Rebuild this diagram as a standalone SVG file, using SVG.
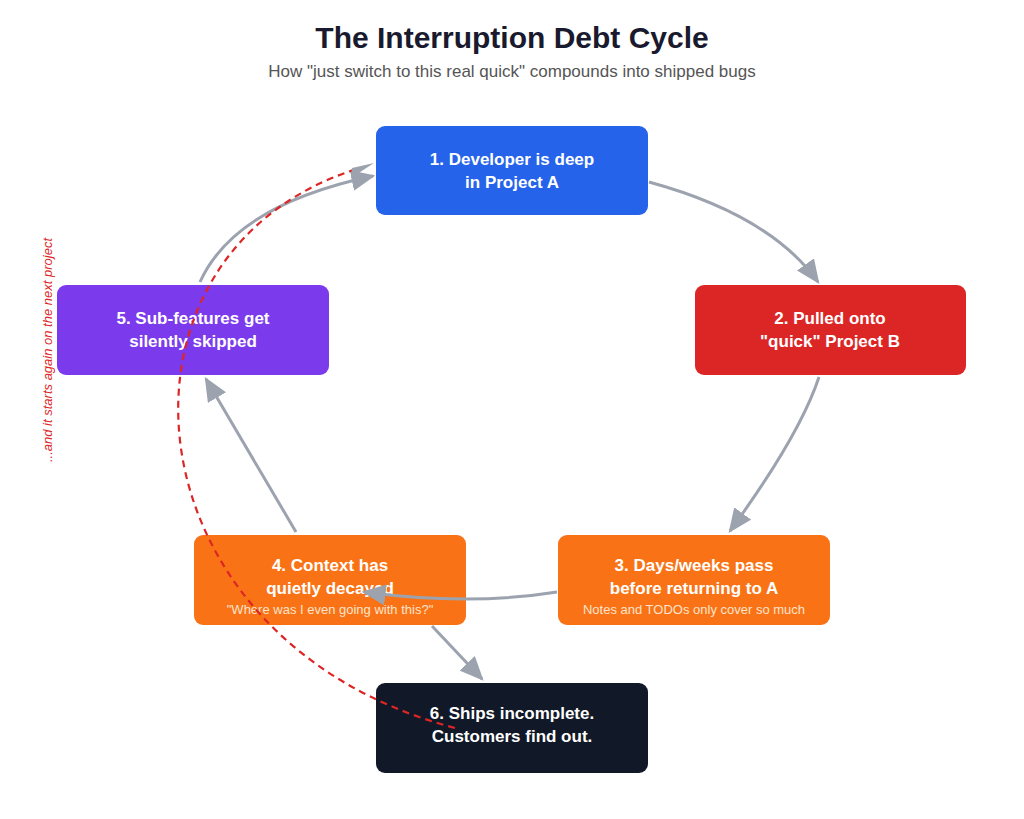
<svg xmlns="http://www.w3.org/2000/svg" width="1024" height="819" viewBox="0 0 1024 819">
<style>
.t{font-family:"Liberation Sans",Arial,sans-serif}
.nt{font-family:"Liberation Sans",Arial,sans-serif;font-weight:bold;font-size:17px;fill:#fff;text-anchor:middle}
.st{font-family:"Liberation Sans",Arial,sans-serif;font-size:13px;fill:#fde3cc;text-anchor:middle}
.c{fill:none;stroke:#9ca3af;stroke-width:3}
</style>
<defs>
<marker id="a" viewBox="0 0 10 10" refX="9" refY="5" markerWidth="8" markerHeight="7" markerUnits="strokeWidth" orient="auto" preserveAspectRatio="none">
<path d="M0,0 L10,5 L0,10 Z" fill="#9ca3af"/>
</marker>
</defs>
<rect width="1024" height="819" fill="#fff"/>
<text x="512" y="48" class="t" font-size="30" font-weight="bold" fill="#1a1a2e" text-anchor="middle">The Interruption Debt Cycle</text>
<text x="512" y="77" class="t" font-size="17" fill="#555" text-anchor="middle">How "just switch to this real quick" compounds into shipped bugs</text>
<g id="n1"><rect x="376" y="126" width="272" height="89" rx="9" fill="#2563eb"/><text class="nt" x="512" y="165">1. Developer is deep</text><text class="nt" x="512" y="188">in Project A</text></g>
<g id="n2"><rect x="695" y="285" width="271" height="90" rx="9" fill="#dc2626"/><text class="nt" x="830" y="324">2. Pulled onto</text><text class="nt" x="830" y="347">"quick" Project B</text></g>
<g id="n3"><rect x="558" y="535" width="272" height="90" rx="9" fill="#f97316"/><text class="nt" x="694" y="571">3. Days/weeks pass</text><text class="nt" x="694" y="594">before returning to A</text><text class="st" x="694" y="614">Notes and TODOs only cover so much</text></g>
<g id="n4"><rect x="194" y="535" width="272" height="90" rx="9" fill="#f97316"/><text class="nt" x="330" y="571">4. Context has</text><text class="nt" x="330" y="594">quietly decayed</text><text class="st" x="330" y="614">"Where was I even going with this?"</text></g>
<g id="n5"><rect x="57" y="285" width="272" height="90" rx="9" fill="#7c3aed"/><text class="nt" x="193" y="324">5. Sub-features get</text><text class="nt" x="193" y="347">silently skipped</text></g>
<g id="n6"><rect x="376" y="683" width="272" height="90" rx="9" fill="#111827"/><text class="nt" x="512" y="719">6. Ships incomplete.</text><text class="nt" x="512" y="742">Customers find out.</text></g>
<g id="connectors">
<path class="c" d="M649,182 Q770,215 818,282" marker-end="url(#a)"/>
<path class="c" d="M819,377 Q800,435 730,531" marker-end="url(#a)"/>
<path class="c" d="M557,592 Q470,606 364,592" marker-end="url(#a)"/>
<path class="c" d="M296,532 L206,379" marker-end="url(#a)"/>
<path class="c" d="M432,626 L482,679" marker-end="url(#a)"/>
<path class="c" d="M200,282 Q235,205 373,176" marker-end="url(#a)"/>
<path d="M455,728 C120,640 90,250 360,168" fill="none" stroke="#dc2626" stroke-width="2.2" stroke-dasharray="7,5"/>
<path d="M352,168 L374,163 L351,178 Z" fill="#9ca3af"/>
</g>
<text class="t" transform="translate(52,350) rotate(-90)" font-size="13" font-style="italic" fill="#dc2626" text-anchor="middle">...and it starts again on the next project</text>
</svg>
